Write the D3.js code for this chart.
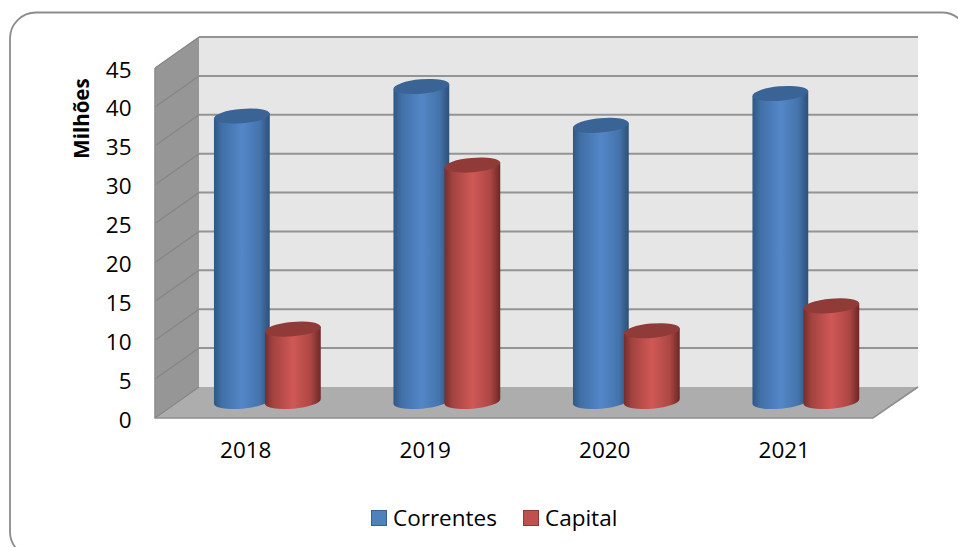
<!DOCTYPE html>
<html>
<head>
<meta charset="utf-8">
<style>
html,body{margin:0;padding:0;background:#fff;overflow:hidden}
svg{display:block}
text{font-family:"Open Sans",Lato,sans-serif;fill:#000}
</style>
<script src="https://cdn.jsdelivr.net/npm/d3@7/dist/d3.min.js"></script>
</head>
<body>
<svg id="chart" width="958" height="547"></svg>
<script>
// Annual revenue, in millions
const years = ["2018","2019","2020","2021"];
const correntes = [36.7,40.5,35.5,39.6];
const capital = [9.3,30.4,9.1,12.3];
const seriesNames = ["Correntes","Capital"];
const yTicks = [0,5,10,15,20,25,30,35,40,45];

const svg = d3.select("#chart");
const defs = svg.append("defs");

// Oblique box: the front edge of the floor and how far back the walls are offset
const front = {left:155,right:873,base:418,top:68};
const depth = {x:44,y:-31};

const x = d3.scaleBand().domain(years).range([front.left,front.right]);
const y = d3.scaleLinear().domain([0,45]).range([front.base,front.top]);

// Rounded outer frame, running past the lower and right edges of the page
svg.append("rect").attr("x",10).attr("y",12.5).attr("width",958).attr("height",545)
  .attr("rx",26).attr("ry",26).attr("fill","#fff").attr("stroke","#8c8c8c").attr("stroke-width",1.8);

// Back wall, side wall and floor
const wallR = front.right+depth.x+1;
svg.append("rect").attr("x",front.left+depth.x).attr("y",y(45)+depth.y)
  .attr("width",wallR-front.left-depth.x).attr("height",y(0)-y(45)).attr("fill","#e6e6e6");
svg.append("path").attr("fill","#969696").attr("d",d3.line()([
  [front.left,y(45)],[front.left+depth.x,y(45)+depth.y],[front.left+depth.x,y(0)+depth.y],[front.left,y(0)]]));
svg.append("path").attr("fill","#adadad").attr("d",d3.line()([
  [front.left,y(0)],[front.left+depth.x,y(0)+depth.y],[wallR,y(0)+depth.y],[front.right,y(0)]]));

// Gridlines along both walls
const grid = svg.append("g").attr("fill","none");
yTicks.forEach(t=>{
  if(t>0) grid.append("line").attr("x1",front.left+depth.x).attr("x2",wallR)
    .attr("y1",y(t)+depth.y).attr("y2",y(t)+depth.y).attr("stroke","#949494").attr("stroke-width",2);
  grid.append("line").attr("x1",front.left).attr("x2",front.left+depth.x)
    .attr("y1",y(t)).attr("y2",y(t)+depth.y).attr("stroke","#858585").attr("stroke-width",1.2);
});
// Front edges of the box
grid.append("path").attr("stroke","#8f8f8f").attr("stroke-width",1.6)
  .attr("d",d3.line()([[front.left,y(45)],[front.left,y(0)],[front.right,y(0)],[wallR,y(0)+depth.y]]));

// Horizontal shading that gives the columns their round look
function shade(id,edgeL,mid,edgeR){
  const g = defs.append("linearGradient").attr("id",id).attr("x1",0).attr("x2",1).attr("y1",0).attr("y2",0);
  [[0,edgeL],[.14,d3.interpolateRgb(edgeL,mid)(.5)],[.5,mid],[.82,d3.interpolateRgb(edgeR,mid)(.65)],[1,edgeR]]
    .forEach(s=>g.append("stop").attr("offset",s[0]).attr("stop-color",s[1]));
}
shade("bodyCorrentes","#2f5785","#5387c8","#2c5078");
shade("bodyCapital","#742d2b","#d05855","#6c2725");

const styles = [
  {name:seriesNames[0],values:correntes,body:"url(#bodyCorrentes)",cap:"#3a6396",off:-25.5},
  {name:seriesNames[1],values:capital,body:"url(#bodyCapital)",cap:"#913b39",off:25.5}
];
const rx = 28, ry = 7.2, tilt = -5, baseDrop = -16.5;
const tiltRad = tilt*Math.PI/180;

// Columns stand halfway back on the floor; Capital is drawn over Correntes
const columns = svg.append("g");
years.forEach((yr,i)=>{
  styles.forEach(s=>{
    const cx = x(yr)+x.bandwidth()/2+depth.x/2+s.off+.6;
    const top = y(s.values[i])+baseDrop, bot = y(0)+baseDrop;
    const dx = rx*Math.cos(tiltRad), dy = rx*Math.sin(tiltRad);
    columns.append("path").attr("fill",s.body).attr("d",
      `M${cx-dx},${top-dy}L${cx-dx},${bot-dy}A${rx},${ry},${tilt},0,0,${cx+dx},${bot+dy}L${cx+dx},${top+dy}Z`);
    columns.append("ellipse").attr("cx",cx).attr("cy",top).attr("rx",rx).attr("ry",ry)
      .attr("transform",`rotate(${tilt} ${cx} ${top})`).attr("fill",s.cap);
  });
});

// Axes
const yAxis = svg.append("g").attr("transform","translate(131.5,1)")
  .call(d3.axisLeft(y).tickValues(yTicks).tickSize(0).tickPadding(0));
yAxis.select(".domain").remove();
yAxis.selectAll("text").attr("font-size",22.5).style("font-family","'Open Sans',sans-serif").attr("dy","0.36em");

const xAxis = svg.append("g").attr("transform","translate(1,450)")
  .call(d3.axisBottom(x).tickSize(0).tickPadding(0));
xAxis.select(".domain").remove();
xAxis.selectAll("text").attr("font-size",22.5).style("font-family","'Open Sans',sans-serif").attr("dy","0.36em").attr("y",0);

svg.append("text").attr("transform","translate(89,118.5) rotate(-90)").attr("text-anchor","middle")
  .attr("font-size",20.5).attr("font-weight",700).text("Milhões");

// Legend
const legendX = [371,523], legendFill = ["#4f81bd","#c0504d"], legendStroke = ["#38618f","#8f3937"];
seriesNames.forEach((n,i)=>{
  svg.append("rect").attr("x",legendX[i]+.5).attr("y",510.5).attr("width",15).attr("height",15)
    .attr("fill",legendFill[i]).attr("stroke",legendStroke[i]);
  svg.append("text").attr("x",legendX[i]+22).attr("y",518).attr("dy","0.36em").attr("font-size",22.5).text(n);
});
</script>
</body>
</html>
